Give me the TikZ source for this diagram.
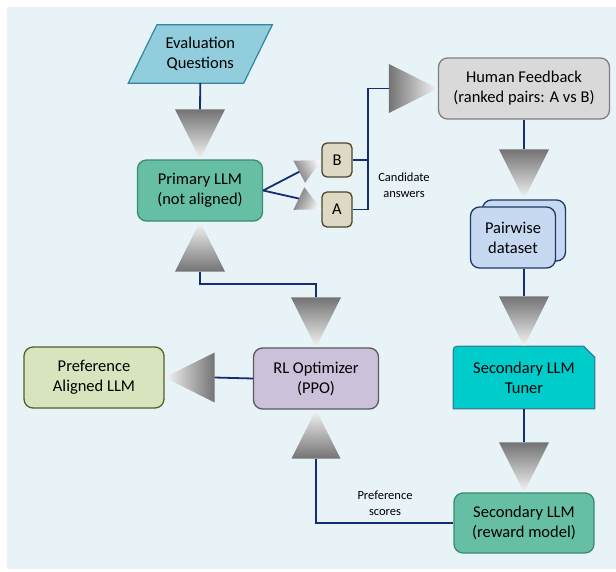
\documentclass[tikz,border=0pt]{standalone}
\usepackage{fontspec}
\setmainfont{Carlito}
\usetikzlibrary{positioning,shapes.geometric,calc}
\definecolor{bgblue}{RGB}{232,243,248}
\definecolor{evalfill}{RGB}{146,205,221}
\definecolor{evalline}{RGB}{49,133,156}
\definecolor{primfill}{RGB}{102,190,164}
\definecolor{primline}{RGB}{58,140,110}
\definecolor{choicefill}{RGB}{221,217,195}
\definecolor{choiceline}{RGB}{74,69,42}
\definecolor{humanfill}{RGB}{217,217,217}
\definecolor{humanline}{RGB}{127,127,127}
\definecolor{pairfill}{RGB}{198,217,241}
\definecolor{pairline}{RGB}{31,56,100}
\definecolor{tunerfill}{RGB}{0,204,204}
\definecolor{tunerline}{RGB}{49,133,156}
\definecolor{rlfill}{RGB}{204,193,218}
\definecolor{rlline}{RGB}{89,89,89}
\definecolor{alignfill}{RGB}{215,228,189}
\definecolor{alignline}{RGB}{79,98,40}
\definecolor{linkblue}{RGB}{20,45,115}
\definecolor{tridark}{RGB}{115,115,115}
\definecolor{trilight}{RGB}{245,245,245}

% shaded triangle head: apex, direction, size, name of base point
\newcommand{\gradtri}[4]{%
  \pgfmathsetmacro\mytriang{#2+90}%
  \path (#1) ++({-#3*cos(#2)*1pt},{-#3*sin(#2)*1pt}) coordinate (#4);
  \shade[top color=tridark,bottom color=trilight,shading angle=\mytriang]
    (#1) -- ($(#4)+({-#3/2*sin(#2)*1pt},{#3/2*cos(#2)*1pt})$)
    -- ($(#4)+({#3/2*sin(#2)*1pt},{-#3/2*cos(#2)*1pt})$) -- cycle;}

\begin{document}
\begin{tikzpicture}[x=1pt,y=-1pt,
  every node/.style={font=\fontsize{16.5}{20}\selectfont,align=center,inner sep=0pt,text=black},
  box/.style={draw,rounded corners=9pt,line width=1.3pt},
  link/.style={draw=linkblue,line width=1.8pt},
  small/.style={font=\fontsize{12.5}{16}\selectfont}]
% background
\fill[white] (0,0) rectangle (616,571);
\fill[bgblue] (7,7) rectangle (616,569);

% boxes
\node[minimum width=115,minimum height=58] (eval) at (200.3,54) {};
\draw[fill=evalfill,draw=evalline,line width=1.2pt] ([xshift=-14.3pt]eval.south west) -- ([xshift=-14.3pt]eval.south east)
  -- ([xshift=14.3pt]eval.north east) -- ([xshift=14.3pt]eval.north west) -- cycle;
\node (evallabel) at (eval.center) {Evaluation\\Questions};
\node[box,fill=primfill,draw=primline,minimum width=125,minimum height=61] (prim) at (200,190.5) {Primary LLM\\(not aligned)};
\node[box,rounded corners=5pt,fill=choicefill,draw=choiceline,minimum width=30,minimum height=34] (bbox) at (337,160) {B};
\node[box,rounded corners=5pt,fill=choicefill,draw=choiceline,minimum width=30,minimum height=35] (abox) at (337,209.5) {A};
\node[box,fill=humanfill,draw=humanline,minimum width=171,minimum height=61] (human) at (524,88.5) {Human Feedback\\(ranked pairs: A vs B)};
\node[box,fill=pairfill,draw=pairline,minimum width=83,minimum height=61] (pairback) at (524,230.5) {};
\node[box,fill=pairfill,draw=pairline,minimum width=85,minimum height=61] (pair) at (513,237.5) {Pairwise\\dataset};
\node[minimum width=141,minimum height=62] (tuner) at (524,377.5) {};
\draw[fill=tunerfill,draw=tunerline,line width=1.3pt] (tuner.south west) -- ([yshift=-8pt]tuner.north west)
  .. controls (tuner.north west) .. ([xshift=8pt]tuner.north west) -- ([xshift=-11pt]tuner.north east)
  -- ([yshift=-11pt]tuner.north east) -- (tuner.south east) -- cycle;
\node (tunerlabel) at (tuner.center) {Secondary LLM\\Tuner};
\node[box,fill=primfill,draw=primline,minimum width=140,minimum height=60] (reward) at (524,523) {Secondary LLM\\(reward model)};
\node[box,fill=rlfill,draw=rlline,minimum width=125,minimum height=61] (rl) at (316,378.5) {RL Optimizer\\(PPO)};
\node[box,fill=alignfill,draw=alignline,minimum width=140,minimum height=61] (align) at (94,377.5) {Preference\\Aligned LLM};

% connectors
\gradtri{prim.north}{-90}{50}{t1}
\draw[link] (eval.south) -- (t1);
\gradtri{prim.south}{90}{50}{t2}
\gradtri{rl.north}{-90}{50}{t3}
\draw[link] (t2) -- ++(0,12) -| (t3);
\gradtri{bbox.west}{28}{25}{t4}
\gradtri{abox.west}{-26}{25}{t5}
\draw[link] (prim.east) -- (t4);
\draw[link] (prim.east) -- (t5);
\gradtri{human.west}{0}{49}{t6}
\draw[link] (abox.east) -- ++(15,0) |- (t6);
\draw[link] (bbox.east) -- ++(15,0);
\node[small] (cand) at (404,185) {Candidate\\answers};
\gradtri{pairback.north}{-90}{50}{t7}
\draw[link] (human.south) -- (t7);
\gradtri{tuner.north}{-90}{50}{t8}
\draw[link] (pair.south -| t8) -- (t8);
\gradtri{reward.north}{-90}{50}{t9}
\draw[link] (tuner.south) -- (t9);
\gradtri{rl.south}{90}{49}{t10}
\draw[link] (reward.west) -| (t10);
\node[small] (scores) at (385,503) {Preference\\scores};
\gradtri{align.east}{180}{50}{t11}
\draw[link] (rl.west) -- (t11);
\end{tikzpicture}
\end{document}
